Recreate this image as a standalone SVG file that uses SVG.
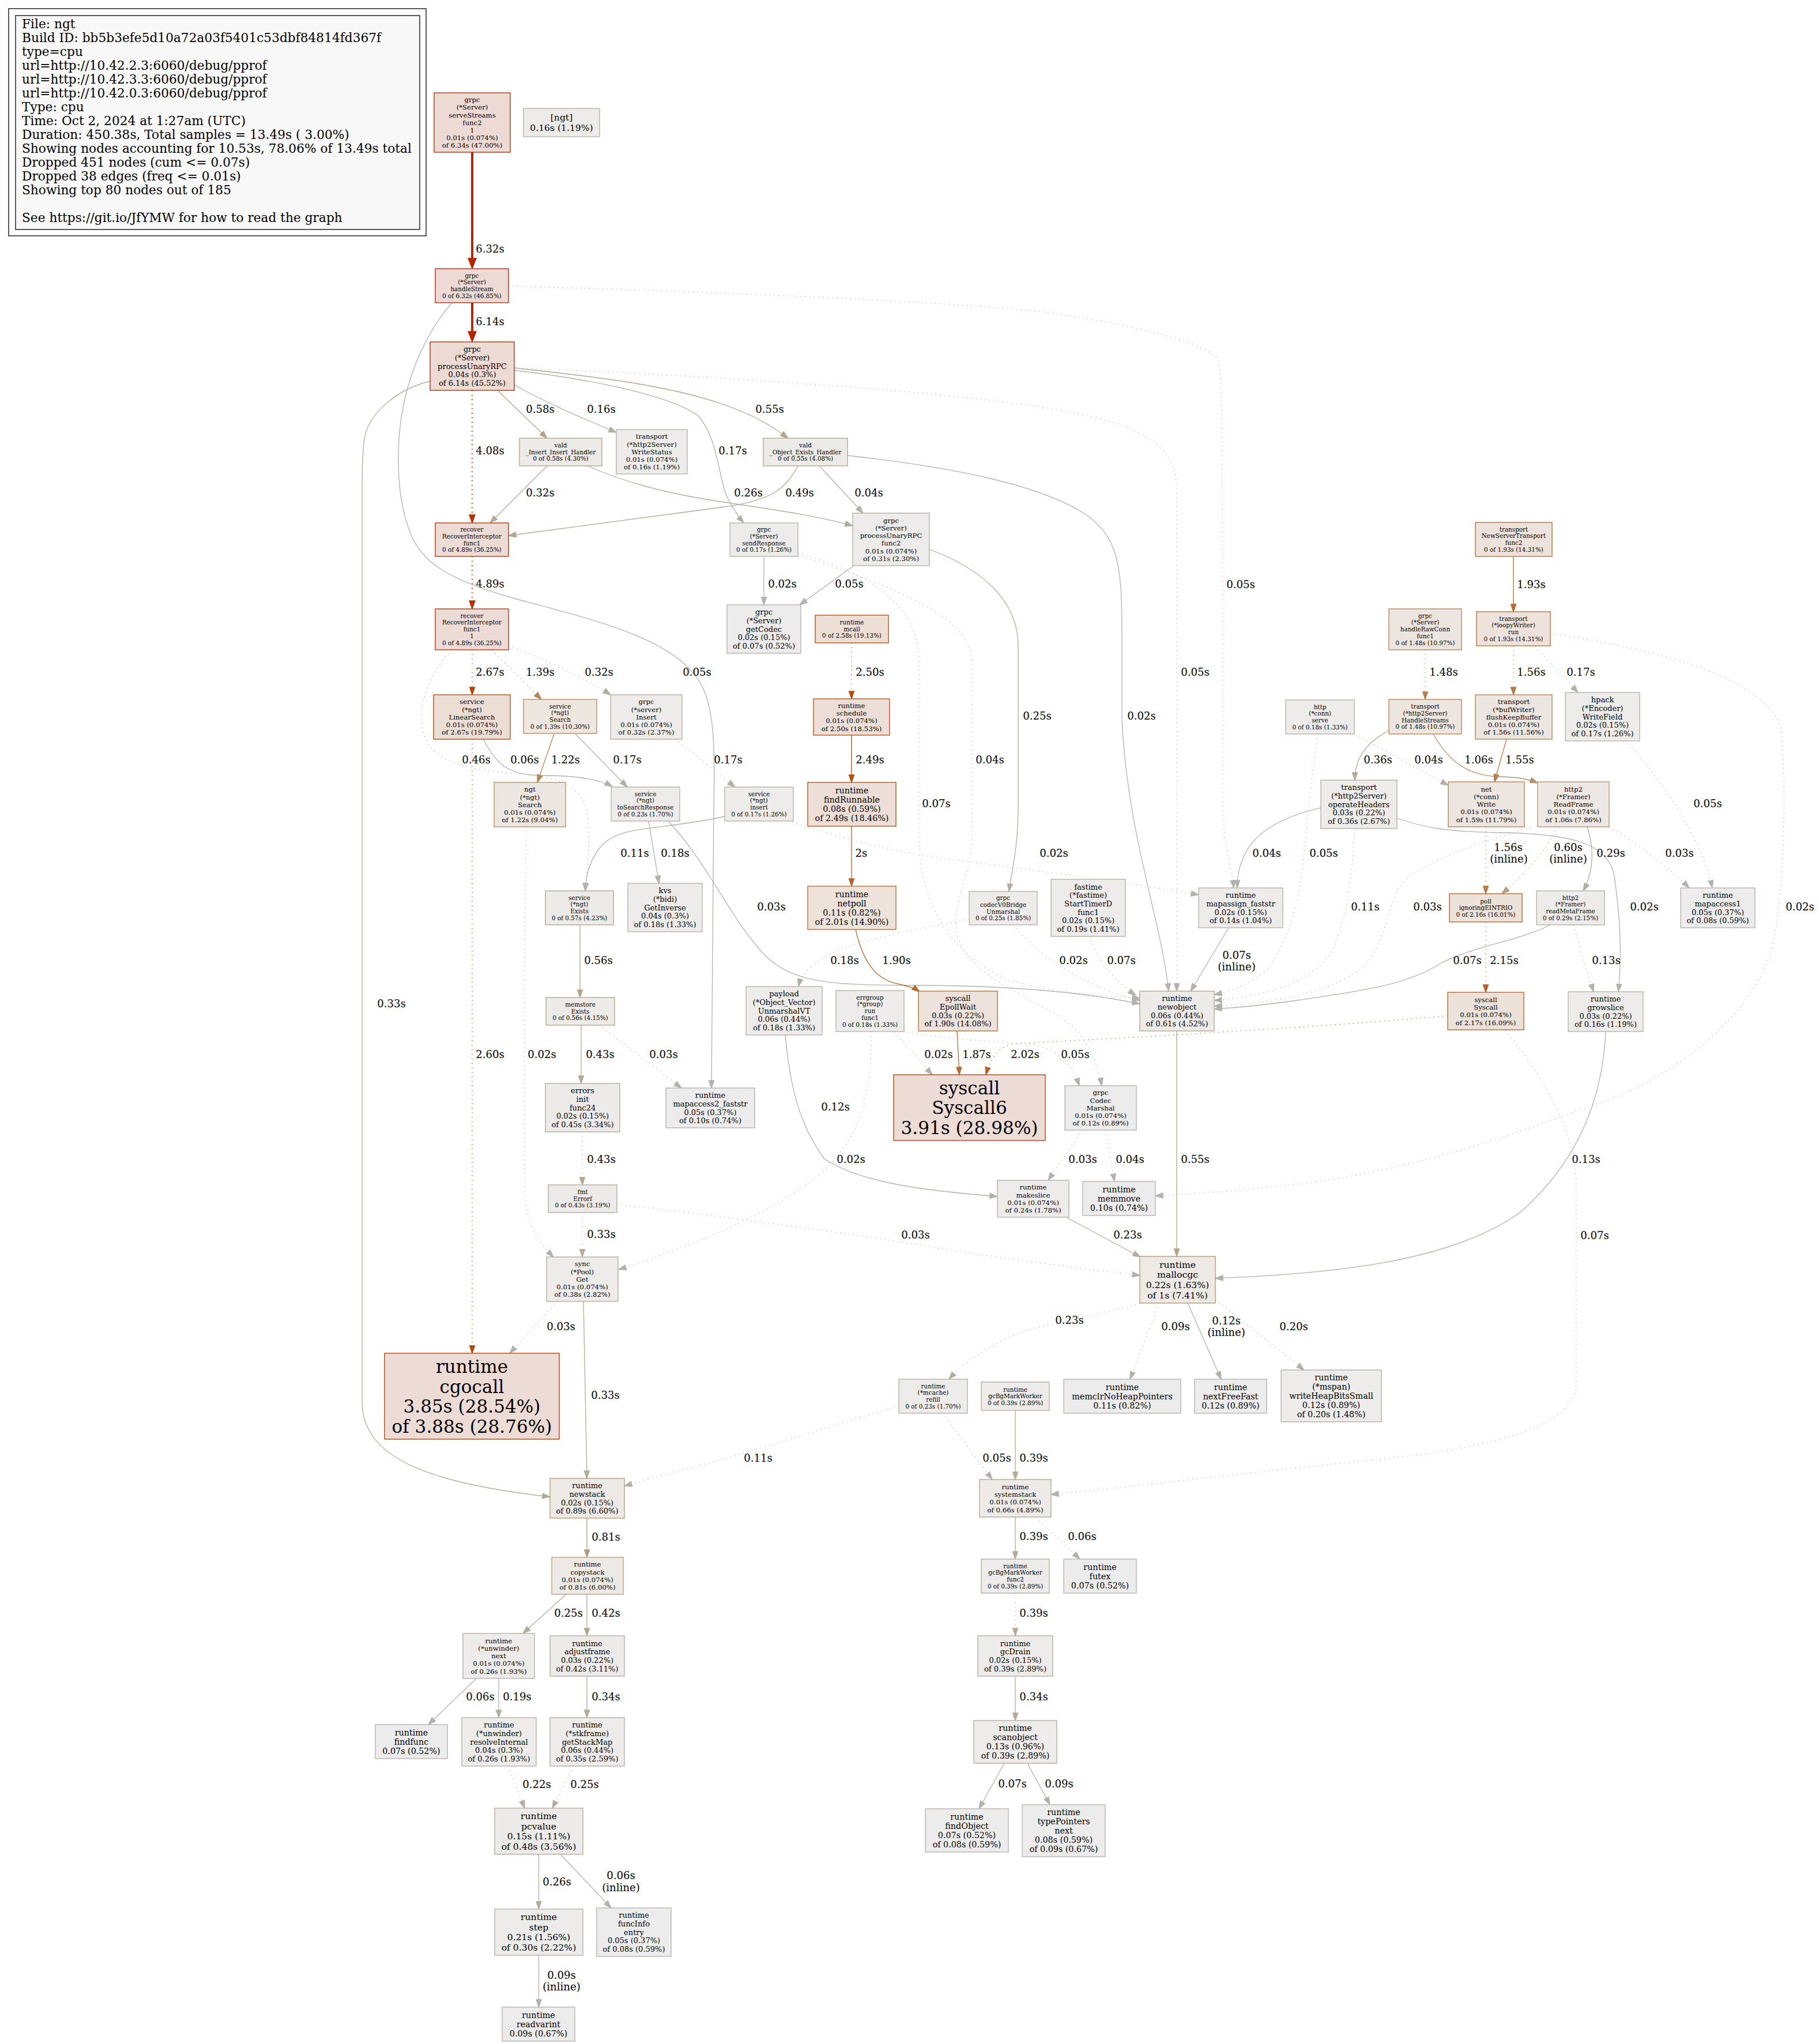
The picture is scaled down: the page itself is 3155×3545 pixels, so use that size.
<svg xmlns="http://www.w3.org/2000/svg" width="3155" height="3545" viewBox="0 0 3155 3545">
<style>
text{font-family:"DejaVu Serif","Liberation Serif",serif;fill:#000}
.n text{text-anchor:middle}
.n rect{stroke-width:1.3}
.f8{font-size:10.4px}.f9{font-size:11.7px}.f10{font-size:13px}.f11{font-size:14.3px}.f12{font-size:15.6px}.f24{font-size:31.1px}
.el{font-size:18.1px;text-anchor:middle}
.lg{font-size:21.7px}
.c{fill:none;stroke-width:1.3}
.dot{stroke-dasharray:1.3 6.5}
.e1{stroke:#b22400;stroke-width:3.9;marker-end:url(#m-e1)}
.e2{stroke:#b23200;stroke-width:2.6;marker-end:url(#m-e2)}
.e3{stroke:#b24704;marker-end:url(#m-e3)}
.e4{stroke:#b24e0d;marker-end:url(#m-e4)}
.e5{stroke:#b2652a;marker-end:url(#m-e5)}
.e6{stroke:#b26c34;marker-end:url(#m-e6)}
.e7{stroke:#b27c4b;marker-end:url(#m-e7)}
.e8{stroke:#b28050;marker-end:url(#m-e8)}
.e9{stroke:#b28858;marker-end:url(#m-e9)}
.e10{stroke:#b2916c;marker-end:url(#m-e10)}
.e11{stroke:#b29b7d;marker-end:url(#m-e11)}
.e12{stroke:#b2a28a;marker-end:url(#m-e12)}
.g1{stroke:#b2a48d;marker-end:url(#m-g1)}
.g2{stroke:#b2a794;marker-end:url(#m-g2)}
.g3{stroke:#b2aa9a;marker-end:url(#m-g3)}
.g4{stroke:#b2ada1;marker-end:url(#m-g4)}
.g5{stroke:#b2afa6;marker-end:url(#m-g5)}
.g6{stroke:#b2b0aa;marker-end:url(#m-g6)}
.g7{stroke:#b2b1ae;marker-end:url(#m-g7)}
.g8{stroke:#b2b2b1;marker-end:url(#m-g8)}
.k1{fill:#eddad5;stroke:#b22400}
.k3{fill:#eddbd5;stroke:#b22e00}
.k4{fill:#eddcd5;stroke:#b23700}
.k5{fill:#edded5;stroke:#b24501}
.k6{fill:#eddfd6;stroke:#b24a07}
.k7{fill:#eddfd7;stroke:#b24e0d}
.k8{fill:#ede2da;stroke:#b25f22}
.k9{fill:#ede3db;stroke:#b2672d}
.k10{fill:#ede3dc;stroke:#b26b32}
.k11{fill:#ede5df;stroke:#b27b49}
.k12{fill:#ede6e0;stroke:#b28050}
.k13{fill:#ede7e0;stroke:#b28456}
.k14{fill:#ede7e2;stroke:#b28b61}
.k15{fill:#ede8e3;stroke:#b2916c}
.k16{fill:#ede9e4;stroke:#b29470}
.k17{fill:#ede9e5;stroke:#b29877}
.k18{fill:#edeae6;stroke:#b29b7d}
.k19{fill:#edeae7;stroke:#b2a086}
.k20{fill:#edebe7;stroke:#b2a28a}
.k21{fill:#edebe8;stroke:#b2a48d}
.k22{fill:#edebe9;stroke:#b2a794}
.k23{fill:#edecea;stroke:#b2aa9a}
.k24{fill:#edeceb;stroke:#b2ada2}
.k25{fill:#edeceb;stroke:#b2afa7}
.k26{fill:#edecec;stroke:#b2b0ab}
</style>
<defs>
<marker id="m-e1" viewBox="-12 -9 22 18" markerWidth="22" markerHeight="18" refX="0" refY="0" orient="auto" markerUnits="userSpaceOnUse"><path d="M-10,-7L8,0L-10,7z" fill="#b22400" stroke="#b22400" stroke-width="1.3"/></marker>
<marker id="m-e2" viewBox="-16 -7 18 14" markerWidth="18" markerHeight="14" refX="0" refY="0" orient="auto" markerUnits="userSpaceOnUse"><path d="M-14,-5L0,0L-14,5z" fill="#b23200" stroke="#b23200" stroke-width="1.3"/></marker>
<marker id="m-e3" viewBox="-15 -6 17 12" markerWidth="17" markerHeight="12" refX="0" refY="0" orient="auto" markerUnits="userSpaceOnUse"><path d="M-13,-4.5L0,0L-13,4.5z" fill="#b24704" stroke="#b24704" stroke-width="1.3"/></marker>
<marker id="m-e4" viewBox="-15 -6 17 12" markerWidth="17" markerHeight="12" refX="0" refY="0" orient="auto" markerUnits="userSpaceOnUse"><path d="M-13,-4.5L0,0L-13,4.5z" fill="#b24e0d" stroke="#b24e0d" stroke-width="1.3"/></marker>
<marker id="m-e5" viewBox="-15 -6 17 12" markerWidth="17" markerHeight="12" refX="0" refY="0" orient="auto" markerUnits="userSpaceOnUse"><path d="M-13,-4.5L0,0L-13,4.5z" fill="#b2652a" stroke="#b2652a" stroke-width="1.3"/></marker>
<marker id="m-e6" viewBox="-15 -6 17 12" markerWidth="17" markerHeight="12" refX="0" refY="0" orient="auto" markerUnits="userSpaceOnUse"><path d="M-13,-4.5L0,0L-13,4.5z" fill="#b26c34" stroke="#b26c34" stroke-width="1.3"/></marker>
<marker id="m-e7" viewBox="-15 -6 17 12" markerWidth="17" markerHeight="12" refX="0" refY="0" orient="auto" markerUnits="userSpaceOnUse"><path d="M-13,-4.5L0,0L-13,4.5z" fill="#b27c4b" stroke="#b27c4b" stroke-width="1.3"/></marker>
<marker id="m-e8" viewBox="-15 -6 17 12" markerWidth="17" markerHeight="12" refX="0" refY="0" orient="auto" markerUnits="userSpaceOnUse"><path d="M-13,-4.5L0,0L-13,4.5z" fill="#b28050" stroke="#b28050" stroke-width="1.3"/></marker>
<marker id="m-e9" viewBox="-15 -6 17 12" markerWidth="17" markerHeight="12" refX="0" refY="0" orient="auto" markerUnits="userSpaceOnUse"><path d="M-13,-4.5L0,0L-13,4.5z" fill="#b28858" stroke="#b28858" stroke-width="1.3"/></marker>
<marker id="m-e10" viewBox="-15 -6 17 12" markerWidth="17" markerHeight="12" refX="0" refY="0" orient="auto" markerUnits="userSpaceOnUse"><path d="M-13,-4.5L0,0L-13,4.5z" fill="#b2916c" stroke="#b2916c" stroke-width="1.3"/></marker>
<marker id="m-e11" viewBox="-15 -6 17 12" markerWidth="17" markerHeight="12" refX="0" refY="0" orient="auto" markerUnits="userSpaceOnUse"><path d="M-13,-4.5L0,0L-13,4.5z" fill="#b29b7d" stroke="#b29b7d" stroke-width="1.3"/></marker>
<marker id="m-e12" viewBox="-15 -6 17 12" markerWidth="17" markerHeight="12" refX="0" refY="0" orient="auto" markerUnits="userSpaceOnUse"><path d="M-13,-4.5L0,0L-13,4.5z" fill="#b2a28a" stroke="#b2a28a" stroke-width="1.3"/></marker>
<marker id="m-g1" viewBox="-15 -6 17 12" markerWidth="17" markerHeight="12" refX="0" refY="0" orient="auto" markerUnits="userSpaceOnUse"><path d="M-13,-4.5L0,0L-13,4.5z" fill="#b2a48d" stroke="#b2a48d" stroke-width="1.3"/></marker>
<marker id="m-g2" viewBox="-15 -6 17 12" markerWidth="17" markerHeight="12" refX="0" refY="0" orient="auto" markerUnits="userSpaceOnUse"><path d="M-13,-4.5L0,0L-13,4.5z" fill="#b2a794" stroke="#b2a794" stroke-width="1.3"/></marker>
<marker id="m-g3" viewBox="-15 -6 17 12" markerWidth="17" markerHeight="12" refX="0" refY="0" orient="auto" markerUnits="userSpaceOnUse"><path d="M-13,-4.5L0,0L-13,4.5z" fill="#b2aa9a" stroke="#b2aa9a" stroke-width="1.3"/></marker>
<marker id="m-g4" viewBox="-15 -6 17 12" markerWidth="17" markerHeight="12" refX="0" refY="0" orient="auto" markerUnits="userSpaceOnUse"><path d="M-13,-4.5L0,0L-13,4.5z" fill="#b2ada1" stroke="#b2ada1" stroke-width="1.3"/></marker>
<marker id="m-g5" viewBox="-15 -6 17 12" markerWidth="17" markerHeight="12" refX="0" refY="0" orient="auto" markerUnits="userSpaceOnUse"><path d="M-13,-4.5L0,0L-13,4.5z" fill="#b2afa6" stroke="#b2afa6" stroke-width="1.3"/></marker>
<marker id="m-g6" viewBox="-15 -6 17 12" markerWidth="17" markerHeight="12" refX="0" refY="0" orient="auto" markerUnits="userSpaceOnUse"><path d="M-13,-4.5L0,0L-13,4.5z" fill="#b2b0aa" stroke="#b2b0aa" stroke-width="1.3"/></marker>
<marker id="m-g7" viewBox="-15 -6 17 12" markerWidth="17" markerHeight="12" refX="0" refY="0" orient="auto" markerUnits="userSpaceOnUse"><path d="M-13,-4.5L0,0L-13,4.5z" fill="#b2b1ae" stroke="#b2b1ae" stroke-width="1.3"/></marker>
<marker id="m-g8" viewBox="-15 -6 17 12" markerWidth="17" markerHeight="12" refX="0" refY="0" orient="auto" markerUnits="userSpaceOnUse"><path d="M-13,-4.5L0,0L-13,4.5z" fill="#b2b2b1" stroke="#b2b2b1" stroke-width="1.3"/></marker>
</defs>
<rect x="0" y="0" width="3155" height="3545" fill="#fff"/>

<g id="legend">
<rect x="15" y="15" width="724" height="394" fill="#fff" stroke="#000" stroke-width="1.3"/>
<rect x="27" y="27" width="701" height="371" fill="#f8f8f8" stroke="#000" stroke-width="1.3"/>
<text class="lg" x="38" y="48.5">File: ngt</text>
<text class="lg" x="38" y="72.5">Build ID: bb5b3efe5d10a72a03f5401c53dbf84814fd367f</text>
<text class="lg" x="38" y="96.5">type=cpu</text>
<text class="lg" x="38" y="120.5">url=http://10.42.2.3:6060/debug/pprof</text>
<text class="lg" x="38" y="144.5">url=http://10.42.3.3:6060/debug/pprof</text>
<text class="lg" x="38" y="168.5">url=http://10.42.0.3:6060/debug/pprof</text>
<text class="lg" x="38" y="192.5">Type: cpu</text>
<text class="lg" x="38" y="216.5">Time: Oct 2, 2024 at 1:27am (UTC)</text>
<text class="lg" x="38" y="240.5">Duration: 450.38s, Total samples = 13.49s ( 3.00%)</text>
<text class="lg" x="38" y="264.5">Showing nodes accounting for 10.53s, 78.06% of 13.49s total</text>
<text class="lg" x="38" y="288.5">Dropped 451 nodes (cum &lt;= 0.07s)</text>
<text class="lg" x="38" y="312.5">Dropped 38 edges (freq &lt;= 0.01s)</text>
<text class="lg" x="38" y="336.5">Showing top 80 nodes out of 185</text>
<text class="lg" x="38" y="384.5">See https://git.io/JfYMW for how to read the graph</text>
</g>

<g id="edges">
<g><path class="c e1" d="M819,264 V458"/><text class="el" x="850" y="438">6.32s</text></g>
<g><path class="c e1" d="M819,525 V585"/><text class="el" x="850" y="564">6.14s</text></g>
<g><path class="c e2 dot" d="M819,677 V907"/><text class="el" x="850" y="788">4.08s</text></g>
<g><path class="c e2 dot" d="M819,965 V1056"/><text class="el" x="850" y="1019">4.89s</text></g>
<g><path class="c e3 dot" d="M819,1127 V1205"/><text class="el" x="850" y="1172">2.67s</text></g>
<g><path class="c e9 dot" d="M853,1127 L939,1213"/><text class="el" x="937" y="1172">1.39s</text></g>
<g><path class="c g3 dot" d="M882,1119 C960,1150 1020,1180 1059,1205"/><text class="el" x="1039" y="1172">0.32s</text></g>
<g><path class="c g2 dot" d="M783,1127 C745,1170 725,1220 733,1265 C745,1320 800,1335 900,1342 C980,1348 1015,1370 1020,1420 C1024,1470 1018,1510 1015,1545"/><text class="el" x="826" y="1324">0.46s</text></g>
<g><path class="c g7" d="M838,1282 C860,1320 875,1345 940,1345 C1000,1345 1040,1352 1062,1364"/><text class="el" x="910" y="1324">0.06s</text></g>
<g><path class="c e3 dot" d="M819,1282 V2347"/><text class="el" x="850" y="1835">2.60s</text></g>
<g><path class="c e9" d="M961,1273 L932,1357"/><text class="el" x="981" y="1324">1.22s</text></g>
<g><path class="c g5" d="M998,1273 L1088,1365"/><text class="el" x="1088" y="1324">0.17s</text></g>
<g><path class="c g5 dot" d="M1171,1282 L1275,1365"/><text class="el" x="1263" y="1324">0.17s</text></g>
<g><path class="c g6" d="M1257,1416 C1150,1440 1080,1430 1045,1465 C1022,1490 1016,1520 1015,1545"/><text class="el" x="1101" y="1486">0.11s</text></g>
<g><path class="c g8 dot" d="M1366,1424 C1450,1450 1520,1470 1600,1484 C1800,1510 1950,1530 2079,1552"/><text class="el" x="1828" y="1486">0.02s</text></g>
<g><path class="c g5" d="M1125,1424 L1143,1532"/><text class="el" x="1171" y="1486">0.18s</text></g>
<g><path class="c g8" d="M1159,1424 C1230,1500 1270,1600 1330,1660 C1380,1705 1440,1709 1600,1709 C1780,1710 1900,1725 1977,1741"/><text class="el" x="1338" y="1579">0.03s</text></g>
<g><path class="c e4 dot" d="M1477,1115 V1212"/><text class="el" x="1509" y="1172">2.50s</text></g>
<g><path class="c e4" d="M1477,1275 V1357"/><text class="el" x="1509" y="1324">2.49s</text></g>
<g><path class="c e5" d="M1477,1433 V1537"/><text class="el" x="1494" y="1486">2s</text></g>
<g><path class="c e6" d="M1484,1612 C1495,1660 1515,1700 1560,1707 C1575,1710 1585,1713 1595,1720"/><text class="el" x="1555" y="1672">1.90s</text></g>
<g><path class="c e6" d="M1660,1788 L1664,1864"/><text class="el" x="1694" y="1835">1.87s</text></g>
<g><path class="c e5 dot" d="M2511,1762 C2300,1780 2000,1798 1760,1810 C1730,1815 1718,1835 1710,1864"/><text class="el" x="1778" y="1835">2.02s</text></g>
<g><path class="c e5 dot" d="M2577,1599 V1721"/><text class="el" x="2609" y="1672">2.15s</text></g>
<g><path class="c e7 dot" d="M2577,1434 V1550"/><text class="el" x="2616" y="1476">1.56s</text><text class="el" x="2617" y="1496">(inline)</text></g>
<g><path class="c e12 dot" d="M2701,1434 C2680,1480 2640,1520 2605,1550"/><text class="el" x="2720" y="1476">0.60s</text><text class="el" x="2720" y="1496">(inline)</text></g>
<g><path class="c e6" d="M2625,965 V1061"/><text class="el" x="2656" y="1020">1.93s</text></g>
<g><path class="c e7 dot" d="M2625,1120 V1205"/><text class="el" x="2656" y="1172">1.56s</text></g>
<g><path class="c g5 dot" d="M2663,1121 L2737,1201"/><text class="el" x="2742" y="1172">0.17s</text></g>
<g><path class="c g8 dot" d="M2691,1099 C2900,1130 3060,1180 3088,1260 C3100,1350 3095,1550 3073,1646 C3040,1760 2900,1880 2737,1925 C2600,1980 2400,2040 2221,2057 C2150,2065 2080,2070 2004,2074"/><text class="el" x="3122" y="1579">0.02s</text></g>
<g><path class="c e7" d="M2613,1282 L2592,1356"/><text class="el" x="2636" y="1324">1.55s</text></g>
<g><path class="c e8 dot" d="M2472,1127 V1213"/><text class="el" x="2504" y="1172">1.48s</text></g>
<g><path class="c g3" d="M2409,1267 C2375,1285 2350,1310 2350,1353"/><text class="el" x="2390" y="1324">0.36s</text></g>
<g><path class="c e10" d="M2486,1273 C2510,1315 2540,1345 2600,1347 C2635,1348 2650,1351 2667,1358"/><text class="el" x="2565" y="1324">1.06s</text></g>
<g><path class="c g7 dot" d="M2349,1273 L2512,1362"/><text class="el" x="2478" y="1324">0.04s</text></g>
<g><path class="c g7 dot" d="M2285,1273 C2275,1350 2268,1420 2264,1460 C2255,1560 2240,1620 2200,1680 C2170,1705 2140,1718 2106,1725"/><text class="el" x="2296" y="1486">0.05s</text></g>
<g><path class="c g7" d="M2291,1401 C2230,1415 2180,1440 2160,1480 C2148,1505 2146,1520 2146,1540"/><text class="el" x="2197" y="1486">0.04s</text></g>
<g><path class="c g6 dot" d="M2350,1437 C2345,1520 2335,1600 2310,1650 C2270,1710 2180,1730 2106,1735"/><text class="el" x="2368" y="1579">0.11s</text></g>
<g><path class="c g8" d="M2423,1419 C2470,1435 2500,1442 2600,1444 C2720,1446 2790,1460 2800,1520 C2812,1600 2812,1670 2807,1720"/><text class="el" x="2852" y="1579">0.02s</text></g>
<g><path class="c g4" d="M2753,1434 C2765,1470 2765,1510 2746,1545"/><text class="el" x="2794" y="1486">0.29s</text></g>
<g><path class="c g8 dot" d="M2791,1434 C2850,1470 2900,1510 2930,1540"/><text class="el" x="2913" y="1486">0.03s</text></g>
<g><path class="c g8 dot" d="M2656,1436 C2580,1455 2450,1500 2426,1540 C2400,1590 2405,1640 2360,1680 C2300,1725 2200,1740 2106,1745"/><text class="el" x="2476" y="1579">0.03s</text></g>
<g><path class="c g7 dot" d="M2820,1285 C2880,1350 2950,1450 2970,1540"/><text class="el" x="2962" y="1400">0.05s</text></g>
<g><path class="c g7" d="M2689,1604 C2640,1630 2560,1640 2500,1670 C2440,1710 2350,1720 2250,1735 C2180,1745 2140,1748 2106,1750"/><text class="el" x="2545" y="1672">0.07s</text></g>
<g><path class="c g6 dot" d="M2730,1604 C2740,1650 2755,1690 2764,1720"/><text class="el" x="2786" y="1672">0.13s</text></g>
<g><path class="c g6" d="M2785,1789 C2780,1900 2740,2010 2640,2100 C2520,2190 2300,2210 2108,2217"/><text class="el" x="2751" y="2017">0.13s</text></g>
<g><path class="c g7 dot" d="M2611,1787 C2680,1870 2730,1960 2734,2050 L2734,2400 C2734,2470 2600,2510 2400,2530 C2200,2550 1950,2580 1823,2592"/><text class="el" x="2766" y="2149">0.07s</text></g>
<g><path class="c g1" d="M2041,1788 V2179"/><text class="el" x="2073" y="2017">0.55s</text></g>
<g><path class="c g4 dot" d="M1985,2258 C1900,2285 1790,2295 1740,2325 C1690,2350 1665,2370 1646,2392"/><text class="el" x="1855" y="2296">0.23s</text></g>
<g><path class="c g6 dot" d="M2010,2260 L1960,2392"/><text class="el" x="2039" y="2307">0.09s</text></g>
<g><path class="c g6" d="M2060,2260 L2118,2392"/><text class="el" x="2127" y="2297">0.12s</text><text class="el" x="2127" y="2317">(inline)</text></g>
<g><path class="c g5 dot" d="M2108,2254 L2262,2376"/><text class="el" x="2244" y="2307">0.20s</text></g>
<g><path class="c g4" d="M1849,2111 L1978,2180"/><text class="el" x="1956" y="2148">0.23s</text></g>
<g><path class="c g7 dot" d="M1635,2451 L1721,2566"/><text class="el" x="1729" y="2535">0.05s</text></g>
<g><path class="c g6 dot" d="M1559,2438 C1450,2470 1300,2520 1200,2545 C1140,2560 1110,2570 1083,2577"/><text class="el" x="1315" y="2535">0.11s</text></g>
<g><path class="c g3" d="M1761,2446 V2566"/><text class="el" x="1793" y="2535">0.39s</text></g>
<g><path class="c g3" d="M1761,2631 V2704"/><text class="el" x="1793" y="2671">0.39s</text></g>
<g><path class="c g7 dot" d="M1796,2631 L1873,2704"/><text class="el" x="1877" y="2671">0.06s</text></g>
<g><path class="c g3 dot" d="M1761,2763 V2837"/><text class="el" x="1793" y="2804">0.39s</text></g>
<g><path class="c g3" d="M1761,2907 V2984"/><text class="el" x="1793" y="2949">0.34s</text></g>
<g><path class="c g7" d="M1742,3058 L1698,3137"/><text class="el" x="1756" y="3100">0.07s</text></g>
<g><path class="c g6" d="M1782,3058 L1821,3130"/><text class="el" x="1837" y="3100">0.09s</text></g>
<g><path class="c g8 dot" d="M967,2257 L884,2347"/><text class="el" x="973" y="2307">0.03s</text></g>
<g><path class="c g3" d="M1012,2257 L1018,2564"/><text class="el" x="1050" y="2426">0.33s</text></g>
<g><path class="c g3 dot" d="M1010,2103 V2180"/><text class="el" x="1043" y="2147">0.33s</text></g>
<g><path class="c g8 dot" d="M1070,2088 C1250,2110 1450,2135 1600,2160 C1750,2185 1880,2200 1977,2212"/><text class="el" x="1588" y="2148">0.03s</text></g>
<g><path class="c g8 dot" d="M1512,1789 C1510,1900 1495,1960 1440,2020 C1380,2080 1250,2145 1073,2202"/><text class="el" x="1476" y="2017">0.02s</text></g>
<g><path class="c g8 dot" d="M1551,1790 L1617,1864"/><text class="el" x="1628" y="1835">0.02s</text></g>
<g><path class="c g7 dot" d="M1568,1789 C1620,1800 1700,1805 1780,1810 C1830,1815 1858,1840 1872,1883"/><text class="el" x="1865" y="1835">0.05s</text></g>
<g><path class="c g7 dot" d="M1384,962 C1520,1010 1686,1060 1686,1150 L1686,1450 C1686,1520 1650,1560 1660,1620 C1680,1700 1800,1730 1860,1780 C1890,1810 1905,1850 1911,1883"/><text class="el" x="1717" y="1324">0.04s</text></g>
<g><path class="c g7 dot" d="M1384,958 C1500,995 1594,1040 1594,1150 L1594,1450 C1594,1560 1640,1650 1750,1700 C1850,1725 1920,1728 1977,1731"/><text class="el" x="1624" y="1400">0.07s</text></g>
<g><path class="c g5 dot" d="M1681,1594 C1600,1610 1480,1630 1430,1660 C1405,1675 1390,1690 1385,1711"/><text class="el" x="1465" y="1672">0.18s</text></g>
<g><path class="c g8 dot" d="M1758,1604 C1800,1660 1880,1710 1977,1735"/><text class="el" x="1862" y="1672">0.02s</text></g>
<g><path class="c g4" d="M1612,953 C1700,985 1766,1040 1766,1120 L1766,1400 C1766,1470 1755,1510 1750,1546"/><text class="el" x="1799" y="1248">0.25s</text></g>
<g><path class="c g7" d="M1481,981 L1387,1049"/><text class="el" x="1473" y="1019">0.05s</text></g>
<g><path class="c g8" d="M1325,965 V1049"/><text class="el" x="1357" y="1019">0.02s</text></g>
<g><path class="c g4" d="M1019,808 C1080,835 1150,855 1250,870 C1350,885 1420,895 1479,912"/><text class="el" x="1298" y="861">0.26s</text></g>
<g><path class="c g7" d="M1421,808 L1497,890"/><text class="el" x="1507" y="861">0.04s</text></g>
<g><path class="c g3" d="M949,808 L850,907"/><text class="el" x="937" y="861">0.32s</text></g>
<g><path class="c g2" d="M1384,808 C1360,850 1340,868 1250,880 C1100,900 950,920 882,929"/><text class="el" x="1387" y="861">0.49s</text></g>
<g><path class="c g8" d="M1470,790 C1650,810 1800,840 1880,890 C1940,930 1946,980 1946,1100 L1946,1250 C1956,1450 2015,1600 2027,1719"/><text class="el" x="1980" y="1248">0.02s</text></g>
<g><path class="c g1" d="M863,677 L949,760"/><text class="el" x="937" y="716">0.58s</text></g>
<g><path class="c g5" d="M891,667 C950,700 1010,725 1069,750"/><text class="el" x="1043" y="716">0.16s</text></g>
<g><path class="c g1" d="M891,638 C1000,650 1150,665 1250,700 C1310,720 1340,740 1367,760"/><text class="el" x="1335" y="716">0.55s</text></g>
<g><path class="c g5" d="M891,642 C1000,655 1150,680 1210,720 C1245,760 1245,820 1260,860 C1270,880 1280,895 1290,907"/><text class="el" x="1271" y="788">0.17s</text></g>
<g><path class="c g7 dot" d="M891,638 C1200,650 1600,675 1800,705 C1960,730 2041,760 2041,850 L2041,1719"/><text class="el" x="2073" y="1172">0.05s</text></g>
<g><path class="c g3" d="M746,661 C690,675 640,715 632,760 C628,790 628,820 628,850 L628,2430 C628,2520 720,2570 954,2596"/><text class="el" x="679" y="1747">0.33s</text></g>
<g><path class="c g7" d="M784,525 C745,570 700,650 692,760 C688,830 695,880 710,920 C730,980 790,1010 900,1040 C1050,1080 1170,1110 1215,1185 C1240,1230 1240,1300 1238,1400 L1234,1887"/><text class="el" x="1209" y="1172">0.05s</text></g>
<g><path class="c g7 dot" d="M882,496 C1200,505 1600,520 1800,540 C1950,560 2080,590 2110,620 C2120,640 2120,700 2120,800 L2121,1400 C2121,1460 2135,1500 2140,1540"/><text class="el" x="2152" y="1020">0.05s</text></g>
<g><path class="c g8 dot" d="M913,1434 C910,1600 909,1800 910,2050 C910,2120 930,2150 960,2180"/><text class="el" x="940" y="1835">0.02s</text></g>
<g><path class="c g2" d="M1008,1778 V1879"/><text class="el" x="1041" y="1835">0.43s</text></g>
<g><path class="c g8 dot" d="M1039,1778 L1182,1887"/><text class="el" x="1151" y="1835">0.03s</text></g>
<g><path class="c g1" d="M1006,1604 V1730"/><text class="el" x="1038" y="1672">0.56s</text></g>
<g><path class="c g2 dot" d="M1010,1963 V2055"/><text class="el" x="1043" y="2017">0.43s</text></g>
<g><path class="c g6" d="M1362,1795 C1370,1880 1385,1950 1430,2010 C1490,2050 1600,2065 1730,2075"/><text class="el" x="1449" y="1926">0.12s</text></g>
<g><path class="c g8 dot" d="M1877,1960 L1818,2047"/><text class="el" x="1878" y="2017">0.03s</text></g>
<g><path class="c g7 dot" d="M1918,1960 L1933,2049"/><text class="el" x="1960" y="2017">0.04s</text></g>
<g><path class="c g7 dot" d="M1890,1624 C1900,1660 1930,1700 1970,1726"/><text class="el" x="1945" y="1672">0.07s</text></g>
<g><path class="c g7" d="M2131,1609 L2065,1719"/><text class="el" x="2145" y="1663">0.07s</text><text class="el" x="2145" y="1683">(inline)</text></g>
<g><path class="c e11" d="M1018,2633 V2701"/><text class="el" x="1051" y="2672">0.81s</text></g>
<g><path class="c g4" d="M982,2765 L907,2833"/><text class="el" x="986" y="2804">0.25s</text></g>
<g><path class="c g2" d="M1018,2765 V2837"/><text class="el" x="1051" y="2804">0.42s</text></g>
<g><path class="c g7" d="M826,2911 L743,2991"/><text class="el" x="833" y="2949">0.06s</text></g>
<g><path class="c g5" d="M865,2911 V2979"/><text class="el" x="897" y="2949">0.19s</text></g>
<g><path class="c g3" d="M1018,2907 V2979"/><text class="el" x="1051" y="2949">0.34s</text></g>
<g><path class="c g4 dot" d="M882,3063 L910,3136"/><text class="el" x="931" y="3101">0.22s</text></g>
<g><path class="c g4 dot" d="M994,3063 L958,3136"/><text class="el" x="1014" y="3101">0.25s</text></g>
<g><path class="c g4" d="M934.5,3216 V3311"/><text class="el" x="966" y="3270">0.26s</text></g>
<g><path class="c g7" d="M972,3216 L1060,3309"/><text class="el" x="1077" y="3259">0.06s</text><text class="el" x="1077" y="3280">(inline)</text></g>
<g><path class="c g6" d="M934.5,3391 V3481"/><text class="el" x="974" y="3432">0.09s</text><text class="el" x="974" y="3452">(inline)</text></g>
</g>

<g id="nodes">
<g id="n1" class="n"><rect class="k1" x="753" y="161" width="132" height="103"/><text class="f9" x="819" y="177.1"><tspan x="819">grpc</tspan><tspan x="819" dy="13.2">(*Server)</tspan><tspan x="819" dy="13.2">serveStreams</tspan><tspan x="819" dy="13.2">func2</tspan><tspan x="819" dy="13.2">1</tspan><tspan x="819" dy="13.2">0.01s (0.074%)</tspan><tspan x="819" dy="13.2">of 6.34s (47.00%)</tspan></text></g>
<g id="n2" class="n"><rect class="k25" x="908" y="188" width="132" height="49"/><text class="f12" x="974" y="209.3"><tspan x="974">[ngt]</tspan><tspan x="974" dy="17.6">0.16s (1.19%)</tspan></text></g>
<g id="n3" class="n"><rect class="k1" x="755" y="466" width="127" height="59"/><text class="f8" x="818.5" y="481.6"><tspan x="818.5">grpc</tspan><tspan x="818.5" dy="11.7">(*Server)</tspan><tspan x="818.5" dy="11.7">handleStream</tspan><tspan x="818.5" dy="11.7">0 of 6.32s (46.85%)</tspan></text></g>
<g id="n4" class="n"><rect class="k1" x="746" y="593" width="146" height="84"/><text class="f10" x="819" y="610.3"><tspan x="819">grpc</tspan><tspan x="819" dy="14.7">(*Server)</tspan><tspan x="819" dy="14.7">processUnaryRPC</tspan><tspan x="819" dy="14.7">0.04s (0.3%)</tspan><tspan x="819" dy="14.7">of 6.14s (45.52%)</tspan></text></g>
<g id="n5" class="n"><rect class="k21" x="901" y="760" width="143" height="48"/><text class="f8" x="972.5" y="776"><tspan x="972.5">vald</tspan><tspan x="972.5" dy="11.7">_Insert_Insert_Handler</tspan><tspan x="972.5" dy="11.7">0 of 0.58s (4.30%)</tspan></text></g>
<g id="n6" class="n"><rect class="k25" x="1069" y="745" width="123" height="77"/><text class="f9" x="1130.5" y="761.3"><tspan x="1130.5">transport</tspan><tspan x="1130.5" dy="13.2">(*http2Server)</tspan><tspan x="1130.5" dy="13.2">WriteStatus</tspan><tspan x="1130.5" dy="13.2">0.01s (0.074%)</tspan><tspan x="1130.5" dy="13.2">of 0.16s (1.19%)</tspan></text></g>
<g id="n7" class="n"><rect class="k21" x="1324" y="760" width="146" height="48"/><text class="f8" x="1397" y="776"><tspan x="1397">vald</tspan><tspan x="1397" dy="11.7">_Object_Exists_Handler</tspan><tspan x="1397" dy="11.7">0 of 0.55s (4.08%)</tspan></text></g>
<g id="n8" class="n"><rect class="k3" x="755" y="907" width="127" height="58"/><text class="f8" x="818.5" y="922.1"><tspan x="818.5">recover</tspan><tspan x="818.5" dy="11.7">RecoverInterceptor</tspan><tspan x="818.5" dy="11.7">func1</tspan><tspan x="818.5" dy="11.7">0 of 4.89s (36.25%)</tspan></text></g>
<g id="n9" class="n"><rect class="k25" x="1266" y="907" width="118" height="58"/><text class="f8" x="1325" y="922.1"><tspan x="1325">grpc</tspan><tspan x="1325" dy="11.7">(*Server)</tspan><tspan x="1325" dy="11.7">sendResponse</tspan><tspan x="1325" dy="11.7">0 of 0.17s (1.26%)</tspan></text></g>
<g id="n10" class="n"><rect class="k23" x="1479" y="890" width="133" height="91"/><text class="f9" x="1545.5" y="906.7"><tspan x="1545.5">grpc</tspan><tspan x="1545.5" dy="13.2">(*Server)</tspan><tspan x="1545.5" dy="13.2">processUnaryRPC</tspan><tspan x="1545.5" dy="13.2">func2</tspan><tspan x="1545.5" dy="13.2">0.01s (0.074%)</tspan><tspan x="1545.5" dy="13.2">of 0.31s (2.30%)</tspan></text></g>
<g id="n11" class="n"><rect class="k26" x="1261" y="1049" width="128" height="84"/><text class="f10" x="1325" y="1066.3"><tspan x="1325">grpc</tspan><tspan x="1325" dy="14.7">(*Server)</tspan><tspan x="1325" dy="14.7">getCodec</tspan><tspan x="1325" dy="14.7">0.02s (0.15%)</tspan><tspan x="1325" dy="14.7">of 0.07s (0.52%)</tspan></text></g>
<g id="n12" class="n"><rect class="k6" x="1414" y="1067" width="127" height="48"/><text class="f8" x="1477.5" y="1083"><tspan x="1477.5">runtime</tspan><tspan x="1477.5" dy="11.7">mcall</tspan><tspan x="1477.5" dy="11.7">0 of 2.58s (19.13%)</tspan></text></g>
<g id="n13" class="n"><rect class="k3" x="755" y="1056" width="127" height="71"/><text class="f8" x="818.5" y="1071.7"><tspan x="818.5">recover</tspan><tspan x="818.5" dy="11.7">RecoverInterceptor</tspan><tspan x="818.5" dy="11.7">func1</tspan><tspan x="818.5" dy="11.7">1</tspan><tspan x="818.5" dy="11.7">0 of 4.89s (36.25%)</tspan></text></g>
<g id="n14" class="n"><rect class="k5" x="752" y="1205" width="133" height="77"/><text class="f9" x="818.5" y="1221.3"><tspan x="818.5">service</tspan><tspan x="818.5" dy="13.2">(*ngt)</tspan><tspan x="818.5" dy="13.2">LinearSearch</tspan><tspan x="818.5" dy="13.2">0.01s (0.074%)</tspan><tspan x="818.5" dy="13.2">of 2.67s (19.79%)</tspan></text></g>
<g id="n15" class="n"><rect class="k13" x="908" y="1213" width="127" height="59"/><text class="f8" x="971.5" y="1228.6"><tspan x="971.5">service</tspan><tspan x="971.5" dy="11.7">(*ngt)</tspan><tspan x="971.5" dy="11.7">Search</tspan><tspan x="971.5" dy="11.7">0 of 1.39s (10.30%)</tspan></text></g>
<g id="n16" class="n"><rect class="k23" x="1059" y="1205" width="124" height="77"/><text class="f9" x="1121" y="1221.3"><tspan x="1121">grpc</tspan><tspan x="1121" dy="13.2">(*server)</tspan><tspan x="1121" dy="13.2">Insert</tspan><tspan x="1121" dy="13.2">0.01s (0.074%)</tspan><tspan x="1121" dy="13.2">of 0.32s (2.37%)</tspan></text></g>
<g id="n17" class="n"><rect class="k7" x="1411" y="1212" width="132" height="63"/><text class="f9" x="1477" y="1227.9"><tspan x="1477">runtime</tspan><tspan x="1477" dy="13.2">schedule</tspan><tspan x="1477" dy="13.2">0.01s (0.074%)</tspan><tspan x="1477" dy="13.2">of 2.50s (18.53%)</tspan></text></g>
<g id="n18" class="n"><rect class="k10" x="2559" y="906" width="133" height="59"/><text class="f8" x="2625.5" y="921.6"><tspan x="2625.5">transport</tspan><tspan x="2625.5" dy="11.7">NewServerTransport</tspan><tspan x="2625.5" dy="11.7">func2</tspan><tspan x="2625.5" dy="11.7">0 of 1.93s (14.31%)</tspan></text></g>
<g id="n19" class="n"><rect class="k10" x="2561" y="1061" width="128" height="59"/><text class="f8" x="2625" y="1076.6"><tspan x="2625">transport</tspan><tspan x="2625" dy="11.7">(*loopyWriter)</tspan><tspan x="2625" dy="11.7">run</tspan><tspan x="2625" dy="11.7">0 of 1.93s (14.31%)</tspan></text></g>
<g id="n20" class="n"><rect class="k12" x="2409" y="1056" width="126" height="71"/><text class="f8" x="2472" y="1071.7"><tspan x="2472">grpc</tspan><tspan x="2472" dy="11.7">(*Server)</tspan><tspan x="2472" dy="11.7">handleRawConn</tspan><tspan x="2472" dy="11.7">func1</tspan><tspan x="2472" dy="11.7">0 of 1.48s (10.97%)</tspan></text></g>
<g id="n21" class="n"><rect class="k12" x="2409" y="1213" width="126" height="60"/><text class="f8" x="2472" y="1229.1"><tspan x="2472">transport</tspan><tspan x="2472" dy="11.7">(*http2Server)</tspan><tspan x="2472" dy="11.7">HandleStreams</tspan><tspan x="2472" dy="11.7">0 of 1.48s (10.97%)</tspan></text></g>
<g id="n22" class="n"><rect class="k11" x="2559" y="1205" width="133" height="77"/><text class="f9" x="2625.5" y="1221.3"><tspan x="2625.5">transport</tspan><tspan x="2625.5" dy="13.2">(*bufWriter)</tspan><tspan x="2625.5" dy="13.2">flushKeepBuffer</tspan><tspan x="2625.5" dy="13.2">0.01s (0.074%)</tspan><tspan x="2625.5" dy="13.2">of 1.56s (11.56%)</tspan></text></g>
<g id="n23" class="n"><rect class="k25" x="2715" y="1201" width="129" height="84"/><text class="f10" x="2779.5" y="1218.3"><tspan x="2779.5">hpack</tspan><tspan x="2779.5" dy="14.7">(*Encoder)</tspan><tspan x="2779.5" dy="14.7">WriteField</tspan><tspan x="2779.5" dy="14.7">0.02s (0.15%)</tspan><tspan x="2779.5" dy="14.7">of 0.17s (1.26%)</tspan></text></g>
<g id="n24" class="n"><rect class="k25" x="2230" y="1214" width="119" height="59"/><text class="f8" x="2289.5" y="1229.6"><tspan x="2289.5">http</tspan><tspan x="2289.5" dy="11.7">(*conn)</tspan><tspan x="2289.5" dy="11.7">serve</tspan><tspan x="2289.5" dy="11.7">0 of 0.18s (1.33%)</tspan></text></g>
<g id="n25" class="n"><rect class="k23" x="2291" y="1353" width="132" height="84"/><text class="f10" x="2357" y="1370.3"><tspan x="2357">transport</tspan><tspan x="2357" dy="14.7">(*http2Server)</tspan><tspan x="2357" dy="14.7">operateHeaders</tspan><tspan x="2357" dy="14.7">0.03s (0.22%)</tspan><tspan x="2357" dy="14.7">of 0.36s (2.67%)</tspan></text></g>
<g id="n26" class="n"><rect class="k11" x="2512" y="1356" width="132" height="78"/><text class="f9" x="2578" y="1372.8"><tspan x="2578">net</tspan><tspan x="2578" dy="13.2">(*conn)</tspan><tspan x="2578" dy="13.2">Write</tspan><tspan x="2578" dy="13.2">0.01s (0.074%)</tspan><tspan x="2578" dy="13.2">of 1.59s (11.79%)</tspan></text></g>
<g id="n27" class="n"><rect class="k15" x="2667" y="1356" width="124" height="78"/><text class="f9" x="2729" y="1372.8"><tspan x="2729">http2</tspan><tspan x="2729" dy="13.2">(*Framer)</tspan><tspan x="2729" dy="13.2">ReadFrame</tspan><tspan x="2729" dy="13.2">0.01s (0.074%)</tspan><tspan x="2729" dy="13.2">of 1.06s (7.86%)</tspan></text></g>
<g id="n28" class="n"><rect class="k8" x="2514" y="1550" width="126" height="49"/><text class="f8" x="2577" y="1566.5"><tspan x="2577">poll</tspan><tspan x="2577" dy="11.7">ignoringEINTRIO</tspan><tspan x="2577" dy="11.7">0 of 2.16s (16.01%)</tspan></text></g>
<g id="n29" class="n"><rect class="k24" x="2665" y="1545" width="118" height="59"/><text class="f8" x="2724" y="1560.6"><tspan x="2724">http2</tspan><tspan x="2724" dy="11.7">(*Framer)</tspan><tspan x="2724" dy="11.7">readMetaFrame</tspan><tspan x="2724" dy="11.7">0 of 0.29s (2.15%)</tspan></text></g>
<g id="n30" class="n"><rect class="k26" x="2915" y="1540" width="129" height="69"/><text class="f10" x="2979.5" y="1557.2"><tspan x="2979.5">runtime</tspan><tspan x="2979.5" dy="14.7">mapaccess1</tspan><tspan x="2979.5" dy="14.7">0.05s (0.37%)</tspan><tspan x="2979.5" dy="14.7">of 0.08s (0.59%)</tspan></text></g>
<g id="n31" class="n"><rect class="k8" x="2511" y="1721" width="132" height="65"/><text class="f9" x="2577" y="1737.9"><tspan x="2577">syscall</tspan><tspan x="2577" dy="13.2">Syscall</tspan><tspan x="2577" dy="13.2">0.01s (0.074%)</tspan><tspan x="2577" dy="13.2">of 2.17s (16.09%)</tspan></text></g>
<g id="n32" class="n"><rect class="k25" x="2720" y="1720" width="130" height="69"/><text class="f10" x="2785" y="1737.2"><tspan x="2785">runtime</tspan><tspan x="2785" dy="14.7">growslice</tspan><tspan x="2785" dy="14.7">0.03s (0.22%)</tspan><tspan x="2785" dy="14.7">of 0.16s (1.19%)</tspan></text></g>
<g id="n33" class="n"><rect class="k14" x="857" y="1357" width="124" height="77"/><text class="f9" x="919" y="1373.3"><tspan x="919">ngt</tspan><tspan x="919" dy="13.2">(*ngt)</tspan><tspan x="919" dy="13.2">Search</tspan><tspan x="919" dy="13.2">0.01s (0.074%)</tspan><tspan x="919" dy="13.2">of 1.22s (9.04%)</tspan></text></g>
<g id="n34" class="n"><rect class="k24" x="1060" y="1365" width="119" height="59"/><text class="f8" x="1119.5" y="1380.6"><tspan x="1119.5">service</tspan><tspan x="1119.5" dy="11.7">(*ngt)</tspan><tspan x="1119.5" dy="11.7">toSearchResponse</tspan><tspan x="1119.5" dy="11.7">0 of 0.23s (1.70%)</tspan></text></g>
<g id="n35" class="n"><rect class="k25" x="1257" y="1365" width="119" height="59"/><text class="f8" x="1316.5" y="1380.6"><tspan x="1316.5">service</tspan><tspan x="1316.5" dy="11.7">(*ngt)</tspan><tspan x="1316.5" dy="11.7">insert</tspan><tspan x="1316.5" dy="11.7">0 of 0.17s (1.26%)</tspan></text></g>
<g id="n36" class="n"><rect class="k7" x="1401" y="1357" width="153" height="76"/><text class="f11" x="1477.5" y="1376"><tspan x="1477.5">runtime</tspan><tspan x="1477.5" dy="16.1">findRunnable</tspan><tspan x="1477.5" dy="16.1">0.08s (0.59%)</tspan><tspan x="1477.5" dy="16.1">of 2.49s (18.46%)</tspan></text></g>
<g id="n37" class="n"><rect class="k21" x="946" y="1545" width="118" height="59"/><text class="f8" x="1005" y="1560.6"><tspan x="1005">service</tspan><tspan x="1005" dy="11.7">(*ngt)</tspan><tspan x="1005" dy="11.7">Exists</tspan><tspan x="1005" dy="11.7">0 of 0.57s (4.23%)</tspan></text></g>
<g id="n38" class="n"><rect class="k25" x="1089" y="1532" width="129" height="84"/><text class="f10" x="1153.5" y="1549.3"><tspan x="1153.5">kvs</tspan><tspan x="1153.5" dy="14.7">(*bidi)</tspan><tspan x="1153.5" dy="14.7">GetInverse</tspan><tspan x="1153.5" dy="14.7">0.04s (0.3%)</tspan><tspan x="1153.5" dy="14.7">of 0.18s (1.33%)</tspan></text></g>
<g id="n39" class="n"><rect class="k9" x="1401" y="1537" width="153" height="75"/><text class="f11" x="1477.5" y="1555.5"><tspan x="1477.5">runtime</tspan><tspan x="1477.5" dy="16.1">netpoll</tspan><tspan x="1477.5" dy="16.1">0.11s (0.82%)</tspan><tspan x="1477.5" dy="16.1">of 2.01s (14.90%)</tspan></text></g>
<g id="n40" class="n"><rect class="k21" x="947" y="1730" width="119" height="48"/><text class="f8" x="1006.5" y="1746"><tspan x="1006.5">memstore</tspan><tspan x="1006.5" dy="11.7">Exists</tspan><tspan x="1006.5" dy="11.7">0 of 0.56s (4.15%)</tspan></text></g>
<g id="n41" class="n"><rect class="k25" x="1294" y="1711" width="132" height="84"/><text class="f10" x="1360" y="1728.3"><tspan x="1360">payload</tspan><tspan x="1360" dy="14.7">(*Object_Vector)</tspan><tspan x="1360" dy="14.7">UnmarshalVT</tspan><tspan x="1360" dy="14.7">0.06s (0.44%)</tspan><tspan x="1360" dy="14.7">of 0.18s (1.33%)</tspan></text></g>
<g id="n42" class="n"><rect class="k25" x="1450" y="1718" width="118" height="71"/><text class="f8" x="1509" y="1733.7"><tspan x="1509">errgroup</tspan><tspan x="1509" dy="11.7">(*group)</tspan><tspan x="1509" dy="11.7">run</tspan><tspan x="1509" dy="11.7">func1</tspan><tspan x="1509" dy="11.7">0 of 0.18s (1.33%)</tspan></text></g>
<g id="n43" class="n"><rect class="k22" x="946" y="1879" width="129" height="84"/><text class="f10" x="1010.5" y="1896.3"><tspan x="1010.5">errors</tspan><tspan x="1010.5" dy="14.7">init</tspan><tspan x="1010.5" dy="14.7">func24</tspan><tspan x="1010.5" dy="14.7">0.02s (0.15%)</tspan><tspan x="1010.5" dy="14.7">of 0.45s (3.34%)</tspan></text></g>
<g id="n44" class="n"><rect class="k26" x="1155" y="1887" width="154" height="69"/><text class="f10" x="1232" y="1904.2"><tspan x="1232">runtime</tspan><tspan x="1232" dy="14.7">mapaccess2_faststr</tspan><tspan x="1232" dy="14.7">0.05s (0.37%)</tspan><tspan x="1232" dy="14.7">of 0.10s (0.74%)</tspan></text></g>
<g id="n45" class="n"><rect class="k22" x="951" y="2055" width="119" height="48"/><text class="f8" x="1010.5" y="2071"><tspan x="1010.5">fmt</tspan><tspan x="1010.5" dy="11.7">Errorf</tspan><tspan x="1010.5" dy="11.7">0 of 0.43s (3.19%)</tspan></text></g>
<g id="n46" class="n"><rect class="k24" x="1681" y="1546" width="118" height="58"/><text class="f8" x="1740" y="1561.1"><tspan x="1740">grpc</tspan><tspan x="1740" dy="11.7">codecV0Bridge</tspan><tspan x="1740" dy="11.7">Unmarshal</tspan><tspan x="1740" dy="11.7">0 of 0.25s (1.85%)</tspan></text></g>
<g id="n47" class="n"><rect class="k24" x="1823" y="1525" width="129" height="99"/><text class="f10" x="1887.5" y="1542.5"><tspan x="1887.5">fastime</tspan><tspan x="1887.5" dy="14.7">(*fastime)</tspan><tspan x="1887.5" dy="14.7">StartTimerD</tspan><tspan x="1887.5" dy="14.7">func1</tspan><tspan x="1887.5" dy="14.7">0.02s (0.15%)</tspan><tspan x="1887.5" dy="14.7">of 0.19s (1.41%)</tspan></text></g>
<g id="n48" class="n"><rect class="k25" x="2079" y="1540" width="146" height="69"/><text class="f10" x="2152" y="1557.2"><tspan x="2152">runtime</tspan><tspan x="2152" dy="14.7">mapassign_faststr</tspan><tspan x="2152" dy="14.7">0.02s (0.15%)</tspan><tspan x="2152" dy="14.7">of 0.14s (1.04%)</tspan></text></g>
<g id="n49" class="n"><rect class="k20" x="1977" y="1719" width="129" height="69"/><text class="f10" x="2041.5" y="1736.2"><tspan x="2041.5">runtime</tspan><tspan x="2041.5" dy="14.7">newobject</tspan><tspan x="2041.5" dy="14.7">0.06s (0.44%)</tspan><tspan x="2041.5" dy="14.7">of 0.61s (4.52%)</tspan></text></g>
<g id="n50" class="n"><rect class="k10" x="1593" y="1719" width="137" height="69"/><text class="f10" x="1661.5" y="1736.2"><tspan x="1661.5">syscall</tspan><tspan x="1661.5" dy="14.7">EpollWait</tspan><tspan x="1661.5" dy="14.7">0.03s (0.22%)</tspan><tspan x="1661.5" dy="14.7">of 1.90s (14.08%)</tspan></text></g>
<g id="n51" class="n"><rect class="k4" x="1550" y="1864" width="263" height="114"/><text class="f24" x="1681.5" y="1897.7"><tspan x="1681.5">syscall</tspan><tspan x="1681.5" dy="34.5">Syscall6</tspan><tspan x="1681.5" dy="34.5">3.91s (28.98%)</tspan></text></g>
<g id="n52" class="n"><rect class="k26" x="1847" y="1883" width="124" height="77"/><text class="f9" x="1909" y="1899.3"><tspan x="1909">grpc</tspan><tspan x="1909" dy="13.2">Codec</tspan><tspan x="1909" dy="13.2">Marshal</tspan><tspan x="1909" dy="13.2">0.01s (0.074%)</tspan><tspan x="1909" dy="13.2">of 0.12s (0.89%)</tspan></text></g>
<g id="n53" class="n"><rect class="k24" x="1730" y="2047" width="124" height="64"/><text class="f9" x="1792" y="2063.4"><tspan x="1792">runtime</tspan><tspan x="1792" dy="13.2">makeslice</tspan><tspan x="1792" dy="13.2">0.01s (0.074%)</tspan><tspan x="1792" dy="13.2">of 0.24s (1.78%)</tspan></text></g>
<g id="n54" class="n"><rect class="k26" x="1878" y="2049" width="126" height="59"/><text class="f11" x="1941" y="2067.5"><tspan x="1941">runtime</tspan><tspan x="1941" dy="16.1">memmove</tspan><tspan x="1941" dy="16.1">0.10s (0.74%)</tspan></text></g>
<g id="n55" class="n"><rect class="k16" x="1977" y="2179" width="131" height="81"/><text class="f12" x="2042.5" y="2198.7"><tspan x="2042.5">runtime</tspan><tspan x="2042.5" dy="17.6">mallocgc</tspan><tspan x="2042.5" dy="17.6">0.22s (1.63%)</tspan><tspan x="2042.5" dy="17.6">of 1s (7.41%)</tspan></text></g>
<g id="n56" class="n"><rect class="k26" x="2072" y="2392" width="125" height="59"/><text class="f11" x="2134.5" y="2410.5"><tspan x="2134.5">runtime</tspan><tspan x="2134.5" dy="16.1">nextFreeFast</tspan><tspan x="2134.5" dy="16.1">0.12s (0.89%)</tspan></text></g>
<g id="n57" class="n"><rect class="k24" x="2222" y="2376" width="174" height="90"/><text class="f11" x="2309" y="2393.9"><tspan x="2309">runtime</tspan><tspan x="2309" dy="16.1">(*mspan)</tspan><tspan x="2309" dy="16.1">writeHeapBitsSmall</tspan><tspan x="2309" dy="16.1">0.12s (0.89%)</tspan><tspan x="2309" dy="16.1">of 0.20s (1.48%)</tspan></text></g>
<g id="n58" class="n"><rect class="k26" x="1845" y="2392" width="203" height="59"/><text class="f11" x="1946.5" y="2410.5"><tspan x="1946.5">runtime</tspan><tspan x="1946.5" dy="16.1">memclrNoHeapPointers</tspan><tspan x="1946.5" dy="16.1">0.11s (0.82%)</tspan></text></g>
<g id="n59" class="n"><rect class="k23" x="948" y="2180" width="124" height="77"/><text class="f9" x="1010" y="2196.3"><tspan x="1010">sync</tspan><tspan x="1010" dy="13.2">(*Pool)</tspan><tspan x="1010" dy="13.2">Get</tspan><tspan x="1010" dy="13.2">0.01s (0.074%)</tspan><tspan x="1010" dy="13.2">of 0.38s (2.82%)</tspan></text></g>
<g id="n60" class="n"><rect class="k4" x="667" y="2347" width="303" height="149"/><text class="f24" x="818.5" y="2381"><tspan x="818.5">runtime</tspan><tspan x="818.5" dy="34.5">cgocall</tspan><tspan x="818.5" dy="34.5">3.85s (28.54%)</tspan><tspan x="818.5" dy="34.5">of 3.88s (28.76%)</tspan></text></g>
<g id="n61" class="n"><rect class="k17" x="954" y="2564" width="129" height="69"/><text class="f10" x="1018.5" y="2581.2"><tspan x="1018.5">runtime</tspan><tspan x="1018.5" dy="14.7">newstack</tspan><tspan x="1018.5" dy="14.7">0.02s (0.15%)</tspan><tspan x="1018.5" dy="14.7">of 0.89s (6.60%)</tspan></text></g>
<g id="n62" class="n"><rect class="k18" x="957" y="2701" width="124" height="64"/><text class="f9" x="1019" y="2717.4"><tspan x="1019">runtime</tspan><tspan x="1019" dy="13.2">copystack</tspan><tspan x="1019" dy="13.2">0.01s (0.074%)</tspan><tspan x="1019" dy="13.2">of 0.81s (6.00%)</tspan></text></g>
<g id="n63" class="n"><rect class="k24" x="803" y="2833" width="124" height="78"/><text class="f9" x="865" y="2849.8"><tspan x="865">runtime</tspan><tspan x="865" dy="13.2">(*unwinder)</tspan><tspan x="865" dy="13.2">next</tspan><tspan x="865" dy="13.2">0.01s (0.074%)</tspan><tspan x="865" dy="13.2">of 0.26s (1.93%)</tspan></text></g>
<g id="n64" class="n"><rect class="k22" x="954" y="2837" width="129" height="70"/><text class="f10" x="1018.5" y="2854.7"><tspan x="1018.5">runtime</tspan><tspan x="1018.5" dy="14.7">adjustframe</tspan><tspan x="1018.5" dy="14.7">0.03s (0.22%)</tspan><tspan x="1018.5" dy="14.7">of 0.42s (3.11%)</tspan></text></g>
<g id="n65" class="n"><rect class="k24" x="1559" y="2392" width="119" height="59"/><text class="f8" x="1618.5" y="2407.6"><tspan x="1618.5">runtime</tspan><tspan x="1618.5" dy="11.7">(*mcache)</tspan><tspan x="1618.5" dy="11.7">refill</tspan><tspan x="1618.5" dy="11.7">0 of 0.23s (1.70%)</tspan></text></g>
<g id="n66" class="n"><rect class="k23" x="1702" y="2397" width="118" height="49"/><text class="f8" x="1761" y="2413.5"><tspan x="1761">runtime</tspan><tspan x="1761" dy="11.7">gcBgMarkWorker</tspan><tspan x="1761" dy="11.7">0 of 0.39s (2.89%)</tspan></text></g>
<g id="n67" class="n"><rect class="k19" x="1699" y="2566" width="124" height="65"/><text class="f9" x="1761" y="2582.9"><tspan x="1761">runtime</tspan><tspan x="1761" dy="13.2">systemstack</tspan><tspan x="1761" dy="13.2">0.01s (0.074%)</tspan><tspan x="1761" dy="13.2">of 0.66s (4.89%)</tspan></text></g>
<g id="n68" class="n"><rect class="k23" x="1702" y="2704" width="118" height="59"/><text class="f8" x="1761" y="2719.6"><tspan x="1761">runtime</tspan><tspan x="1761" dy="11.7">gcBgMarkWorker</tspan><tspan x="1761" dy="11.7">func2</tspan><tspan x="1761" dy="11.7">0 of 0.39s (2.89%)</tspan></text></g>
<g id="n69" class="n"><rect class="k26" x="1845" y="2704" width="126" height="59"/><text class="f11" x="1908" y="2722.5"><tspan x="1908">runtime</tspan><tspan x="1908" dy="16.1">futex</tspan><tspan x="1908" dy="16.1">0.07s (0.52%)</tspan></text></g>
<g id="n70" class="n"><rect class="k23" x="1696" y="2837" width="130" height="70"/><text class="f10" x="1761" y="2854.7"><tspan x="1761">runtime</tspan><tspan x="1761" dy="14.7">gcDrain</tspan><tspan x="1761" dy="14.7">0.02s (0.15%)</tspan><tspan x="1761" dy="14.7">of 0.39s (2.89%)</tspan></text></g>
<g id="n71" class="n"><rect class="k23" x="1689" y="2984" width="144" height="74"/><text class="f11" x="1761" y="3002"><tspan x="1761">runtime</tspan><tspan x="1761" dy="16.1">scanobject</tspan><tspan x="1761" dy="16.1">0.13s (0.96%)</tspan><tspan x="1761" dy="16.1">of 0.39s (2.89%)</tspan></text></g>
<g id="n72" class="n"><rect class="k26" x="651" y="2991" width="125" height="59"/><text class="f11" x="713.5" y="3009.5"><tspan x="713.5">runtime</tspan><tspan x="713.5" dy="16.1">findfunc</tspan><tspan x="713.5" dy="16.1">0.07s (0.52%)</tspan></text></g>
<g id="n73" class="n"><rect class="k24" x="801" y="2979" width="129" height="84"/><text class="f10" x="865.5" y="2996.3"><tspan x="865.5">runtime</tspan><tspan x="865.5" dy="14.7">(*unwinder)</tspan><tspan x="865.5" dy="14.7">resolveInternal</tspan><tspan x="865.5" dy="14.7">0.04s (0.3%)</tspan><tspan x="865.5" dy="14.7">of 0.26s (1.93%)</tspan></text></g>
<g id="n74" class="n"><rect class="k23" x="954" y="2979" width="129" height="84"/><text class="f10" x="1018.5" y="2996.3"><tspan x="1018.5">runtime</tspan><tspan x="1018.5" dy="14.7">(*stkframe)</tspan><tspan x="1018.5" dy="14.7">getStackMap</tspan><tspan x="1018.5" dy="14.7">0.06s (0.44%)</tspan><tspan x="1018.5" dy="14.7">of 0.35s (2.59%)</tspan></text></g>
<g id="n75" class="n"><rect class="k22" x="858" y="3136" width="153" height="80"/><text class="f12" x="934.5" y="3155.2"><tspan x="934.5">runtime</tspan><tspan x="934.5" dy="17.6">pcvalue</tspan><tspan x="934.5" dy="17.6">0.15s (1.11%)</tspan><tspan x="934.5" dy="17.6">of 0.48s (3.56%)</tspan></text></g>
<g id="n76" class="n"><rect class="k24" x="858" y="3311" width="153" height="80"/><text class="f12" x="934.5" y="3330.2"><tspan x="934.5">runtime</tspan><tspan x="934.5" dy="17.6">step</tspan><tspan x="934.5" dy="17.6">0.21s (1.56%)</tspan><tspan x="934.5" dy="17.6">of 0.30s (2.22%)</tspan></text></g>
<g id="n77" class="n"><rect class="k26" x="1035" y="3309" width="129" height="84"/><text class="f10" x="1099.5" y="3326.3"><tspan x="1099.5">runtime</tspan><tspan x="1099.5" dy="14.7">funcInfo</tspan><tspan x="1099.5" dy="14.7">entry</tspan><tspan x="1099.5" dy="14.7">0.05s (0.37%)</tspan><tspan x="1099.5" dy="14.7">of 0.08s (0.59%)</tspan></text></g>
<g id="n78" class="n"><rect class="k26" x="871" y="3481" width="126" height="59"/><text class="f11" x="934" y="3499.5"><tspan x="934">runtime</tspan><tspan x="934" dy="16.1">readvarint</tspan><tspan x="934" dy="16.1">0.09s (0.67%)</tspan></text></g>
<g id="n79" class="n"><rect class="k26" x="1605" y="3137" width="144" height="75"/><text class="f11" x="1677" y="3156"><tspan x="1677">runtime</tspan><tspan x="1677" dy="16.1">findObject</tspan><tspan x="1677" dy="16.1">0.07s (0.52%)</tspan><tspan x="1677" dy="16.1">of 0.08s (0.59%)</tspan></text></g>
<g id="n80" class="n"><rect class="k26" x="1773" y="3130" width="144" height="90"/><text class="f11" x="1845" y="3147.9"><tspan x="1845">runtime</tspan><tspan x="1845" dy="16.1">typePointers</tspan><tspan x="1845" dy="16.1">next</tspan><tspan x="1845" dy="16.1">0.08s (0.59%)</tspan><tspan x="1845" dy="16.1">of 0.09s (0.67%)</tspan></text></g>
</g>
</svg>
